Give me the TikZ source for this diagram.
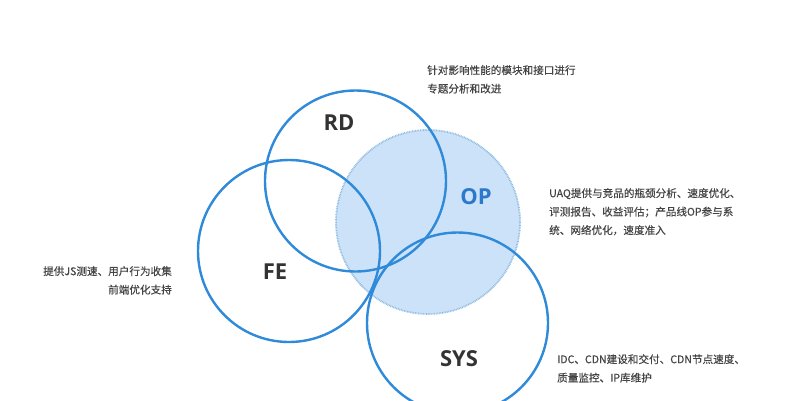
\documentclass[tikz,border=0pt]{standalone}
\usepackage{fontspec}
\newfontfamily\cjk[FakeBold=0.35]{Noto Sans CJK SC}
\newfontfamily\lab{Open Sans}
\begin{document}
\begin{tikzpicture}[x=1pt,y=-1pt,
  ring/.style={draw=ringblue,line width=2.4pt},
  biglabel/.style={font=\lab\bfseries\fontsize{22}{26}\selectfont,text=labgray,inner sep=0pt},
  note/.style={font=\cjk\fontsize{10.6}{18.5}\selectfont,text=notegray,inner sep=0pt,align=left}]
\definecolor{ringblue}{HTML}{2F8BDA}
\definecolor{opfill}{HTML}{CCE2F8}
\definecolor{opborder}{HTML}{8FBCE2}
\definecolor{labgray}{HTML}{333333}
\definecolor{opblue}{HTML}{2C78CC}
\definecolor{notegray}{HTML}{444444}
\useasboundingbox (0,0) rectangle (789,400);
\fill[white] (0,0) rectangle (789,400);
% OP filled circle
\fill[opfill] (428,222) circle (92);
\draw[opborder,line width=1.8pt,dash pattern=on 0.8pt off 0.8pt] (428,222) circle (92);
% rings
\draw[ring] (355.5,181) circle (90.5);
\draw[ring] (289,251) circle (91);
\draw[ring] (457.5,323) circle (90.5);
% labels
\node[biglabel] (rd) at (339,123) {RD};
\node[biglabel,text=opblue] (op) at (476,197) {OP};
\node[biglabel] (fe) at (275,272) {FE};
\node[biglabel] (sys) at (459,359) {SYS};
% notes
\node[note,anchor=north west] (n1) at (427,65) {针对影响性能的模块和接口进行\\专题分析和改进};
\node[note,anchor=north west] (n2) at (549,188) {UAQ提供与竞品的瓶颈分析、速度优化、\\评测报告、收益评估；产品线OP参与系\\统、网络优化，速度准入};
\node[note,anchor=north east,align=right] (n3) at (172,266) {提供JS测速、用户行为收集\\前端优化支持};
\node[note,anchor=north west] (n4) at (557,354) {IDC、CDN建设和交付、CDN节点速度、\\质量监控、IP库维护};
\end{tikzpicture}
\end{document}
